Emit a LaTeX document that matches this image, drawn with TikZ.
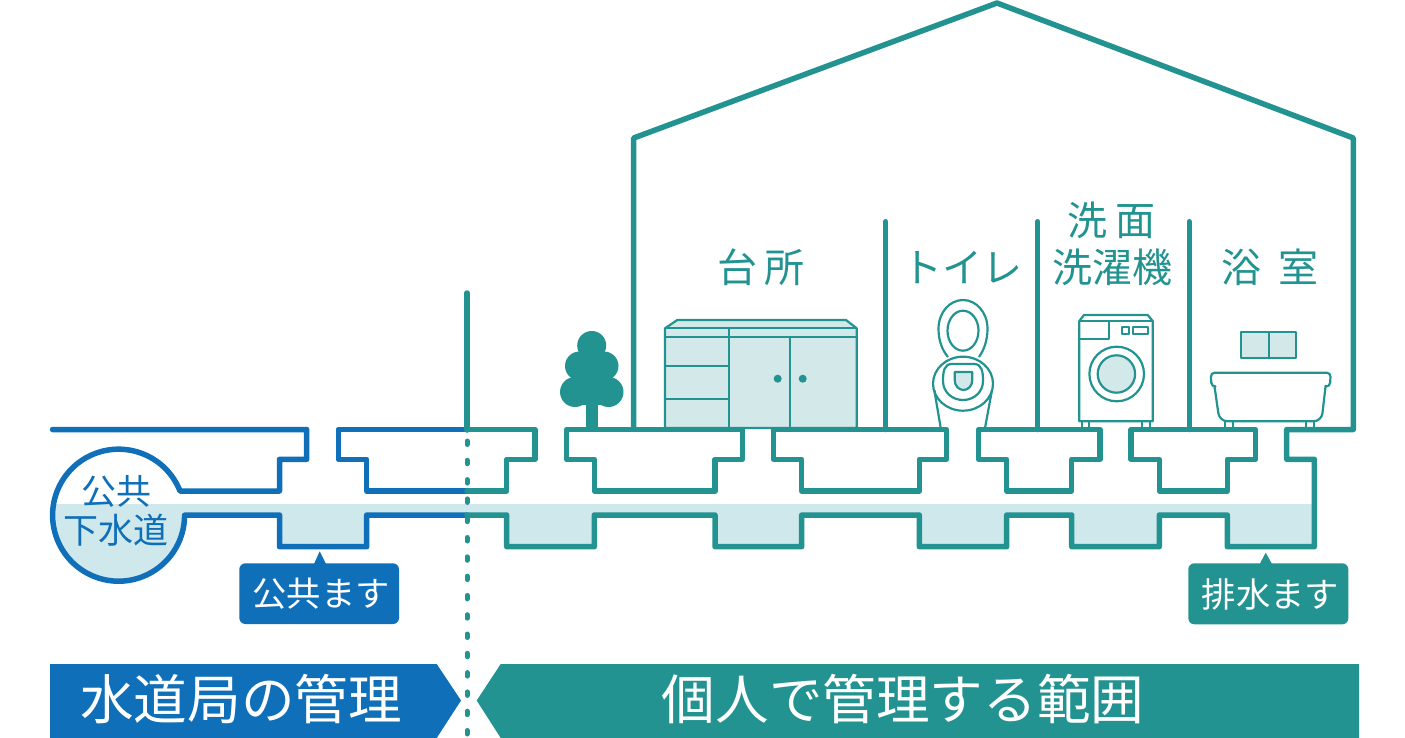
\documentclass[tikz,border=0pt]{standalone}
\usepackage{fontspec}
\setmainfont{Noto Sans CJK JP}
\usepackage{tikz}
\usetikzlibrary{backgrounds}

\definecolor{bleu}{HTML}{0F6FB8}
\definecolor{vert}{HTML}{229391}
\definecolor{eau}{HTML}{CFE8EC}
\definecolor{meuble}{HTML}{D3E8E8}

\begin{document}
\begin{tikzpicture}[
  x=1pt, y=-1pt,
  tuyau/.style={line width=5.5pt, line join=round, line cap=round},
  fin/.style={draw=vert, line width=2.2pt, line join=round},
  piece/.style={text=vert, font=\fontsize{40}{48}\selectfont},
  etiq/.style={text=white, font=\fontsize{34.3}{40}\selectfont},
  rubrique/.style={text=white, font=\fontsize{53.6}{60}\selectfont}
]
  \useasboundingbox (0,0) rectangle (1405,738);

  %=========================================================
  % 1. Eau dans les tuyaux
  %=========================================================
  \begin{scope}
    \clip (119,515) circle (66pt);
    \fill[eau] (50,504) rectangle (190,590);
  \end{scope}
  \fill[eau] (180,504) -- (1314.3,504) -- (1314.3,546.7) -- (1227.3,546.7)
    -- (1227.3,515) -- (1159.3,515) -- (1159.3,546.7) -- (1071.7,546.7)
    -- (1071.7,515) -- (1006.7,515) -- (1006.7,546.7) -- (919.3,546.7)
    -- (919.3,515) -- (801.7,515) -- (801.7,546.7) -- (715,546.7)
    -- (715,515) -- (594.3,515) -- (594.3,546.7) -- (506.7,546.7)
    -- (506.7,515) -- (366.7,515) -- (366.7,546.7) -- (279.5,546.7)
    -- (279.5,515) -- (180,515) -- cycle;

  %=========================================================
  % 2. Reseau public
  %=========================================================
  \draw[tuyau, bleu] (52.5,429.5) -- (306.7,429.5) -- (306.7,459.3) -- (279.5,459.3)
    -- (279.5,491) -- (180,491) arc[start angle=21.5, end angle=360, radius=66pt]
    -- (279.5,515) -- (279.5,546.7) -- (366.7,546.7) -- (366.7,515) -- (467,515);
  \draw[tuyau, bleu] (467,429.5) -- (338.3,429.5) -- (338.3,459.3) -- (366.7,459.3)
    -- (366.7,491) -- (467,491);

  %=========================================================
  % 3. Reseau prive et maison
  %=========================================================
  \draw[tuyau, vert] (467,429.5) -- (535,429.5) -- (535,459.3) -- (506.7,459.3)
    -- (506.7,491) -- (467,491);
  \draw[tuyau, vert] (467,515) -- (506.7,515) -- (506.7,546.7) -- (594.3,546.7)
    -- (594.3,515) -- (715,515) -- (715,546.7) -- (801.7,546.7) -- (801.7,515)
    -- (919.3,515) -- (919.3,546.7) -- (1006.7,546.7) -- (1006.7,515) -- (1071.7,515)
    -- (1071.7,546.7) -- (1159.3,546.7) -- (1159.3,515) -- (1227.3,515)
    -- (1227.3,546.7) -- (1314.3,546.7) -- (1314.3,459.3) -- (1286.7,459.3)
    -- (1286.7,429.5) -- (1353.3,429.5) -- (1353.3,138) -- (997,3) -- (633.7,138)
    -- (633.7,429.5);
  \draw[tuyau, vert] (566.7,429.5) -- (566.7,459.3) -- (594.3,459.3) -- (594.3,491)
    -- (715,491) -- (715,459.3) -- (742.3,459.3) -- (742.3,429.5) -- cycle;
  \draw[tuyau, vert] (773.3,429.5) -- (773.3,459.3) -- (801.7,459.3) -- (801.7,491)
    -- (919.3,491) -- (919.3,459.3) -- (946.7,459.3) -- (946.7,429.5) -- cycle;
  \draw[tuyau, vert] (978.7,429.5) -- (978.7,459.3) -- (1006.7,459.3) -- (1006.7,491)
    -- (1071.7,491) -- (1071.7,459.3) -- (1100,459.3) -- (1100,429.5) -- cycle;
  \draw[tuyau, vert] (1131,429.5) -- (1131,459.3) -- (1159.3,459.3) -- (1159.3,491)
    -- (1227.3,491) -- (1227.3,459.3) -- (1255.7,459.3) -- (1255.7,429.5) -- cycle;

  % --- cloisons ---
  \draw[tuyau, vert] (885.7,221.7) -- (885.7,429.5);
  \draw[tuyau, vert] (1037.7,221.7) -- (1037.7,429.5);
  \draw[tuyau, vert] (1189.3,221.7) -- (1189.3,429.5);

  % --- limite de propriete ---
  \draw[tuyau, vert] (467,293) -- (467,430);
  \draw[vert, line width=5pt, line cap=round, dash pattern=on 3.5pt off 15.8pt]
    (467,441) -- (467,738);

  %=========================================================
  % 4. Arbre
  %=========================================================
  \fill[vert] (585.7,400) rectangle (598.3,429);
  \fill[vert] (591.7,345.5) circle (14.5pt);
  \fill[vert] (579.5,366) circle (14.5pt);
  \fill[vert] (604,366) circle (14.5pt);
  \fill[vert] (575,392) circle (15pt);
  \fill[vert] (608.5,392) circle (15pt);
  \fill[vert] (575,372) rectangle (608.5,405);

  %=========================================================
  % 5. Meuble de cuisine
  %=========================================================
  \filldraw[fin, fill=meuble] (665,428) -- (665,328.3) -- (677.3,320) -- (846,320)
    -- (856.7,328.3) -- (856.7,428) -- cycle;
  \draw[fin] (665,328.3) -- (856.7,328.3);
  \draw[fin] (665,336.7) -- (856.7,336.7);
  \draw[fin] (729,328.3) -- (729,428);
  \draw[fin] (790,336.7) -- (790,428);
  \draw[fin] (665,366.3) -- (729,366.3);
  \draw[fin] (665,398.7) -- (729,398.7);
  \fill[vert] (777.7,378.7) circle (4pt);
  \fill[vert] (802.7,378.7) circle (4pt);

  %=========================================================
  % 6. Toilettes
  %=========================================================
  \draw[fin] (948,357) .. controls (942,350) and (938.5,340) .. (938.5,329)
    .. controls (938.5,312) and (950,300) .. (963,300)
    .. controls (976,300) and (987.5,312) .. (987.5,329)
    .. controls (987.5,340) and (984,350) .. (979,357);
  \draw[fin] (963,330.7) ellipse [x radius=15.5pt, y radius=20pt];
  \draw[fin] (963,383.7) ellipse [x radius=30pt, y radius=27pt];
  \draw[fin] (951.7,364) -- (974,364) .. controls (982,364) and (983,372) .. (983,381)
    .. controls (983,392) and (974,400) .. (963,400)
    .. controls (952,400) and (943,392) .. (943,381)
    .. controls (943,372) and (944,364) .. (951.7,364);
  \filldraw[fin, fill=meuble] (954.7,372) -- (972.3,372) -- (972.3,380)
    .. controls (972.3,386) and (968,390) .. (963.5,390)
    .. controls (959,390) and (954.7,386) .. (954.7,380) -- cycle;
  \draw[fin] (934.3,390) -- (940.7,428);
  \draw[fin] (992,390) -- (985,428);

  %=========================================================
  % 7. Lave-linge
  %=========================================================
  \draw[fin] (1079.3,421.3) -- (1079.3,321) -- (1084,315) -- (1147.7,315)
    -- (1152.7,321) -- (1152.7,421.3) -- cycle;
  \draw[fin] (1079.3,321) -- (1152.7,321);
  \draw[fin] (1079.3,339) -- (1109,339) -- (1109,321);
  \draw[fin] (1121.7,327.3) rectangle (1129,334.3);
  \draw[fin] (1132.7,327.3) rectangle (1147.7,334.3);
  \draw[fin] (1116.7,374) circle (27.3pt);
  \filldraw[fin, fill=meuble] (1116.4,374) circle (18.7pt);
  \draw[fin] (1081.7,421.3) rectangle (1089.3,428);
  \draw[fin] (1141.7,421.3) rectangle (1150,428);

  %=========================================================
  % 8. Baignoire et fenetre
  %=========================================================
  \filldraw[fin, fill=meuble] (1240.7,332) rectangle (1296,358.3);
  \draw[fin] (1268.7,332) -- (1268.7,358.3);
  \draw[fin, rounded corners=4pt] (1214.3,386.7) -- (1211.5,386.7) -- (1210.7,372.7)
    -- (1330.7,372.7) -- (1329.9,386.7) -- (1325.7,386.7);
  \draw[fin, rounded corners=8pt] (1214.3,385) -- (1219.5,421.3) -- (1321.5,421.3)
    -- (1325.7,385);
  \draw[fin] (1225,421.3) rectangle (1233.3,428);
  \draw[fin] (1306,421.3) rectangle (1314.3,428);

  %=========================================================
  % 9. Noms des pieces
  %=========================================================
  \node[piece] (cuisine) at (761,267) {台\hspace{0.2em}所};
  \node[piece] (wc) at (962,267) {トイレ};
  \node[piece] (lavabo) at (1111.5,220) {洗\hspace{0.2em}面};
  \node[piece] (linge) at (1112,267) {洗濯機};
  \node[piece] (bain) at (1270,267) {浴\hspace{0.42em}室};

  %=========================================================
  % 10. Etiquettes
  %=========================================================
  \node[text=bleu, font=\fontsize{35}{40}\selectfont] (pub) at (116,491.7) {公共};
  \node[text=bleu, font=\fontsize{35}{40}\selectfont] (egout) at (116,530.7) {下水道};

  \fill[bleu, rounded corners=6pt] (239.3,563.3) rectangle (399,624);
  \fill[bleu] (314,564) -- (319.7,551.3) -- (326,564) -- cycle;
  \node[etiq] (regardpub) at (321,594) {公共ます};

  \fill[vert, rounded corners=6pt] (1188.3,563.3) rectangle (1348.3,624.3);
  \fill[vert] (1259.7,564) -- (1265.7,552.7) -- (1272,564) -- cycle;
  \node[etiq] (regardpriv) at (1270.5,594) {排水ます};

  %=========================================================
  % 11. Bandeaux du bas
  %=========================================================
  \fill[bleu] (50,664) -- (436.7,664) -- (461,700.5) -- (436.7,738) -- (50,738) -- cycle;
  \node[rubrique] (eaux) at (241,699) {水道局の管理};
  \fill[vert] (1359,664) -- (500.7,664) -- (476.7,700.5) -- (500.7,738) -- (1359,738) -- cycle;
  \node[rubrique] (perso) at (903,699) {個人で管理する範囲};

\end{tikzpicture}
\end{document}
